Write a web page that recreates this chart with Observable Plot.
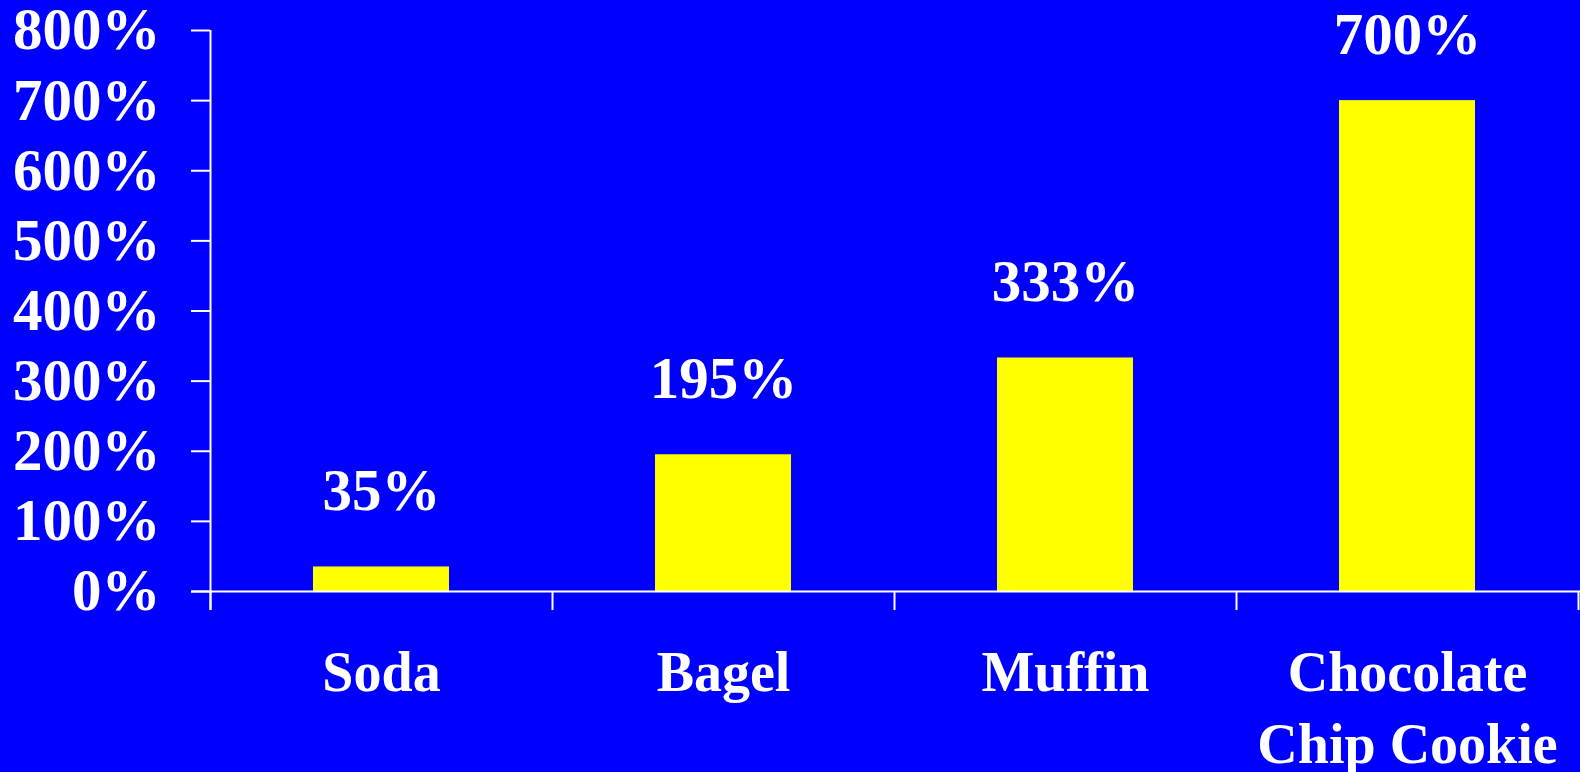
<!DOCTYPE html>
<html>
<head>
<meta charset="utf-8">
<script src="https://cdn.jsdelivr.net/npm/d3@7"></script>
<script src="https://cdn.jsdelivr.net/npm/@observablehq/plot@0.6"></script>
<style>
  html, body { margin: 0; padding: 0; background: #0000FF; overflow: hidden; }
  #chart svg { display: block; }
</style>
</head>
<body>
<div id="chart"></div>
<script>
const categories = ["Soda", "Bagel", "Muffin", "Chocolate Chip Cookie"];
const categoryLabels = ["Soda", "Bagel", "Muffin", "Chocolate\nChip Cookie"];
const values = [35, 195, 333, 700];
const valueLabels = ["35%", "195%", "333%", "700%"];
const yTicks = [0, 100, 200, 300, 400, 500, 600, 700, 800];

const data = categories.map((c, i) => ({category: c, value: values[i], label: valueLabels[i]}));

const W = 1580, H = 772;
const mL = 210, mR = 2, mT = 30, mB = 181;
const step = (W - mL - mR) / categories.length;
const font = "'Liberation Serif', 'Times New Roman', serif";
const fs = 59;     // numbers
const fsCat = 56;  // category labels

const chart = Plot.plot({
  width: W,
  height: H,
  marginLeft: mL,
  marginRight: mR,
  marginTop: mT,
  marginBottom: mB,
  style: {background: "#0000FF", color: "white", fontFamily: font, fontWeight: "bold", fontSize: fs + "px", overflow: "visible"},
  x: {domain: categories, padding: 0, axis: null},
  y: {domain: [0, 800], axis: null},
  marks: [
    Plot.barY(data, {x: "category", y: "value", fill: "#FFFF00", insetLeft: 103, insetRight: 103}),
    // y axis
    Plot.axisY({ticks: yTicks, tickSize: 19, tickPadding: 31, tickFormat: d => d + "%", strokeWidth: 2, stroke: "white", fill: "white", fontSize: fs, fontWeight: "bold", label: null}),
    // y axis line
    Plot.ruleX([categories[0]], {x: d => d, dx: -step / 2, y1: 800, y2: 0, insetBottom: -19, stroke: "white", strokeWidth: 2}),
    // x axis baseline
    Plot.ruleY([0], {stroke: "white", strokeWidth: 2, insetLeft: -19, insetRight: -2}),
    // band boundary ticks
    Plot.ruleX(categories, {x: d => d, dx: -step / 2, y1: 0, y2: 0, insetBottom: -19, stroke: "white", strokeWidth: 2}),
    Plot.ruleX([categories[categories.length - 1]], {x: d => d, dx: step / 2, y1: 0, y2: 0, insetBottom: -19, stroke: "white", strokeWidth: 2}),
    // category labels
    Plot.text(data, {x: "category", frameAnchor: "bottom", text: (d, i) => categoryLabels[i], dy: 48, lineAnchor: "top", lineHeight: 1.29, fill: "white", fontSize: fsCat, fontWeight: "bold"}),
    // value labels
    Plot.text(data, {x: "category", y: d => Math.min(d.value + 81, 767), text: "label", lineAnchor: "bottom", fill: "white", fontSize: fs, fontWeight: "bold"})
  ]
});

document.getElementById("chart").appendChild(chart);
</script>
</body>
</html>
